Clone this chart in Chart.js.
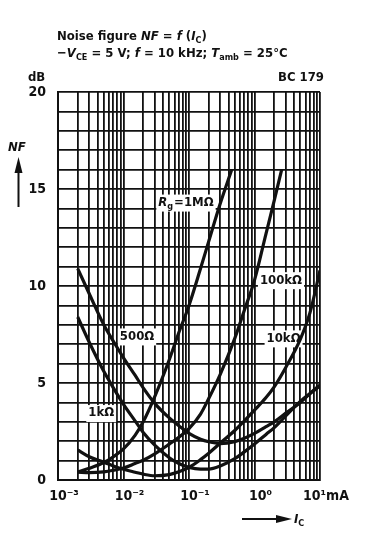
<!DOCTYPE html>
<html lang="en">
<head>
  <meta charset="UTF-8">
  <title>Noise figure NF = f(IC) | BC 179</title>
  <script src="https://cdn.jsdelivr.net/npm/chart.js"></script>
  <style>
    html, body { margin: 0; padding: 0; background: #fff; }
    body { width: 385px; height: 552px; position: relative; overflow: hidden;
           font-family: 'Liberation Sans Narrow', 'DejaVu Sans Condensed', 'Liberation Sans', Arial, sans-serif; color: #111; }
    #nfChart { position: absolute; left: 0; top: 0; }
    .txt { position: absolute; font-weight: bold; font-size: 13px; line-height: 15px; white-space: nowrap; }
    .txt sub { font-size: 9px; vertical-align: -3px; line-height: 0; }
  </style>
</head>
<body>
  <canvas id="nfChart" width="385" height="552"></canvas>

  <div class="txt" style="left:57px; top:28px">Noise figure <i>NF</i> = <i>f</i> (<i>I</i><sub>C</sub>)</div>
  <div class="txt" style="left:57px; top:45px">−<i>V</i><sub>CE</sub> = 5 V; <i>f</i> = 10 kHz; <i>T</i><sub>amb</sub> = 25°C</div>
  <div class="txt" style="left:28px; top:69px">dB</div>
  <div class="txt" style="left:278px; top:69px">BC 179</div>
  <div class="txt" style="left:8px; top:139px"><i>NF</i></div>
  <div class="txt" style="left:294px; top:511px"><i>I</i><sub>C</sub></div>

  <script>
    // collector current (mA) and noise figure (dB)
    const currentMA = [0.002, 0.003, 0.005, 0.007, 0.01, 0.015, 0.02, 0.03, 0.05, 0.07, 0.1, 0.15, 0.2, 0.3, 0.5, 0.7, 1, 1.5, 2, 3, 5, 7, 10];
    const nf500 = [10.9, 9.6, 8.0, 7.15, 6.3, 5.4, 4.75, 3.95, 3.2, 2.8, 2.4, 2.1, 1.97, 1.88, 1.98, 2.15, 2.4, 2.75, 3.0, 3.45, 4.0, 4.45, 4.9];
    const nf1k = [8.4, 7.1, 5.6, 4.75, 3.9, 3.05, 2.45, 1.8, 1.15, 0.85, 0.65, 0.56, 0.56, 0.72, 1.1, 1.45, 1.85, 2.35, 2.7, 3.3, 4.05, 4.45, 4.85];
    const nf10k = [1.55, 1.2, 0.92, 0.72, 0.55, 0.4, 0.3, 0.22, 0.28, 0.42, 0.65, 1.05, 1.38, 1.9, 2.55, 3.05, 3.6, 4.25, 4.8, 5.8, 7.25, 8.6, 10.8];

    const current100k = [0.002, 0.003, 0.005, 0.007, 0.01, 0.015, 0.02, 0.03, 0.05, 0.07, 0.1, 0.15, 0.2, 0.3, 0.5, 0.7, 1, 1.5, 2, 2.6];
    const nf100k = [0.4, 0.38, 0.42, 0.5, 0.62, 0.85, 1.02, 1.35, 1.85, 2.2, 2.65, 3.4, 4.2, 5.45, 7.3, 8.75, 10.3, 12.7, 14.4, 16.0];

    const current1M = [0.002, 0.003, 0.005, 0.007, 0.01, 0.015, 0.02, 0.03, 0.05, 0.07, 0.1, 0.15, 0.2, 0.3, 0.45];
    const nf1M = [0.42, 0.6, 0.9, 1.2, 1.6, 2.3, 3.0, 4.3, 6.2, 7.6, 9.0, 10.9, 12.3, 14.25, 16.0];

    // axis ticks
    const decadeValues = [0.001, 0.01, 0.1, 1, 10];
    const xTickLabels = ['10⁻³', '10⁻²', '10⁻¹', '10⁰', '10¹mA'];
    const yTickValues = [0, 5, 10, 15, 20];

    // curve labels (source resistance) and where they sit, in data units
    const curveLabels = ['=1MΩ', '100kΩ', '10kΩ', '500Ω', '1kΩ'];
    const labelX = [0.034, 1.21, 1.53, 0.0088, 0.0029];
    const labelY = [14.3, 10.3, 7.3, 7.4, 3.45];

    const FONT = "'Liberation Sans Narrow', 'DejaVu Sans Condensed', 'Liberation Sans', Arial, sans-serif";
    const INK = '#111';

    function pts(xs, ys) {
      return xs.map((x, i) => ({ x: x, y: ys[i] }));
    }

    function curve(xs, ys) {
      return {
        data: pts(xs, ys),
        showLine: true,
        borderColor: INK,
        borderWidth: 3.2,
        pointRadius: 0,
        fill: false,
        cubicInterpolationMode: 'monotone'
      };
    }

    const curveLabelPlugin = {
      id: 'curveLabels',
      beforeDatasetsDraw(chart) {
        const ctx = chart.ctx;
        const xs = chart.scales.x, ys = chart.scales.y;
        ctx.save();
        ctx.textBaseline = 'middle';
        for (let i = 0; i < curveLabels.length; i++) {
          const px = xs.getPixelForValue(labelX[i]);
          const py = ys.getPixelForValue(labelY[i]);
          ctx.font = 'bold 13px ' + FONT;
          const w = ctx.measureText(curveLabels[i]).width;
          let pre = 0;
          if (i === 0) {
            // R with subscript g in front
            ctx.font = 'italic bold 13px ' + FONT;
            pre = ctx.measureText('R').width;
            ctx.font = 'bold 9px ' + FONT;
            pre += ctx.measureText('g').width + 1;
          }
          ctx.fillStyle = '#fff';
          ctx.fillRect(px - 2, py - 8, pre + w + 4, 17);
          ctx.fillStyle = INK;
          if (i === 0) {
            ctx.font = 'italic bold 13px ' + FONT;
            ctx.fillText('R', px, py);
            const rw = ctx.measureText('R').width;
            ctx.font = 'bold 9px ' + FONT;
            ctx.fillText('g', px + rw, py + 4);
          }
          ctx.font = 'bold 13px ' + FONT;
          ctx.fillText(curveLabels[i], px + pre, py);
        }
        ctx.restore();
      },
      afterDraw(chart) {
        const ctx = chart.ctx;
        ctx.save();
        ctx.strokeStyle = INK;
        ctx.fillStyle = INK;
        ctx.lineWidth = 2;
        // NF arrow, pointing up
        ctx.beginPath(); ctx.moveTo(18.5, 207); ctx.lineTo(18.5, 170); ctx.stroke();
        ctx.beginPath(); ctx.moveTo(18.5, 157); ctx.lineTo(14.5, 173); ctx.lineTo(22.5, 173); ctx.closePath(); ctx.fill();
        // IC arrow, pointing right
        ctx.beginPath(); ctx.moveTo(242, 519); ctx.lineTo(280, 519); ctx.stroke();
        ctx.beginPath(); ctx.moveTo(292, 519); ctx.lineTo(276, 515); ctx.lineTo(276, 523); ctx.closePath(); ctx.fill();
        ctx.restore();
      }
    };

    Chart.defaults.font.family = FONT;
    Chart.defaults.color = INK;

    new Chart(document.getElementById('nfChart'), {
      type: 'scatter',
      data: {
        datasets: [
          curve(currentMA, nf500),
          curve(currentMA, nf1k),
          curve(currentMA, nf10k),
          curve(current100k, nf100k),
          curve(current1M, nf1M)
        ]
      },
      options: {
        responsive: false,
        animation: false,
        layout: { padding: { left: 28, top: 92, right: 65, bottom: 42 } },
        plugins: { legend: { display: false }, tooltip: { enabled: false } },
        scales: {
          x: {
            type: 'logarithmic',
            min: 0.001,
            max: 10,
            afterBuildTicks: (scale) => {
              const t = [];
              for (let e = -3; e < 1; e++) {
                for (let k = 1; k < 10; k++) t.push({ value: k * Math.pow(10, e) });
              }
              t.push({ value: 10 });
              scale.ticks = t;
            },
            afterFit: (scale) => { scale.height = 30; },
            grid: { color: '#111', lineWidth: 1.8, drawTicks: false, tickLength: 0 },
            border: { display: true, color: INK, width: 2 },
            ticks: {
              autoSkip: false,
              maxRotation: 0,
              padding: 8,
              labelOffset: 6,
              font: { size: 14, weight: 'bold' },
              callback: (v) => {
                const i = decadeValues.findIndex(d => Math.abs(Math.log10(v) - Math.log10(d)) < 1e-6);
                return i >= 0 ? xTickLabels[i] : '';
              }
            }
          },
          y: {
            type: 'linear',
            min: 0,
            max: 20,
            afterFit: (scale) => { scale.width = 30; },
            grid: { color: '#111', lineWidth: 1.8, drawTicks: false, tickLength: 0 },
            border: { display: true, color: INK, width: 2 },
            ticks: {
              stepSize: 1,
              autoSkip: false,
              padding: 12,
              font: { size: 14, weight: 'bold' },
              callback: (v) => yTickValues.includes(v) ? String(v) : ''
            }
          }
        }
      },
      plugins: [curveLabelPlugin]
    });
  </script>
</body>
</html>
